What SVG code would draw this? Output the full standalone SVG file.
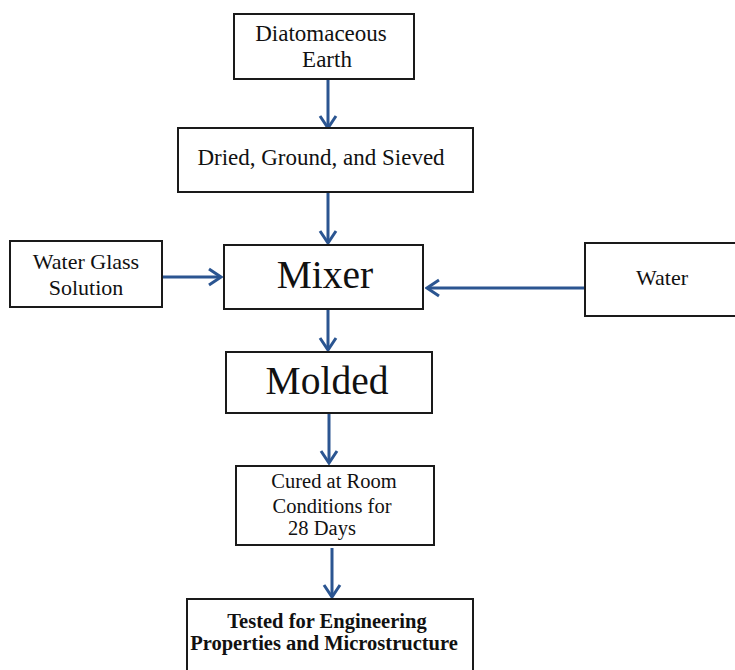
<svg xmlns="http://www.w3.org/2000/svg" width="735" height="670" viewBox="0 0 735 670">
<style>
.box{fill:#fff;stroke:#1a1a1a;stroke-width:2}
.t{font-family:"Liberation Serif","Times New Roman",serif;fill:#111;text-anchor:middle}
.s23{font-size:23px}
.s22{font-size:22px}
.m{font-size:20.5px}
.big{font-size:39.5px}
.b{font-size:20.5px;font-weight:bold}
.c{stroke:#2b5591;stroke-width:3;fill:none}
</style>
<defs>
<marker id="ah" viewBox="0 0 16 20" refX="14" refY="10" markerWidth="16" markerHeight="20" markerUnits="userSpaceOnUse" orient="auto">
<path d="M2,2 L14,10 L2,18" fill="none" stroke="#2b5591" stroke-width="3"/>
</marker>
</defs>
<rect width="735" height="670" fill="#fff"/>
<g id="connectors">
<line class="c" x1="328" y1="79" x2="328" y2="128" marker-end="url(#ah)"/>
<line class="c" x1="328" y1="192" x2="328" y2="243" marker-end="url(#ah)"/>
<line class="c" x1="162" y1="277" x2="221" y2="277" marker-end="url(#ah)"/>
<line class="c" x1="585" y1="288" x2="427" y2="288" marker-end="url(#ah)"/>
<line class="c" x1="328" y1="310" x2="328" y2="350" marker-end="url(#ah)"/>
<line class="c" x1="329" y1="413" x2="329" y2="463" marker-end="url(#ah)"/>
<line class="c" x1="332" y1="548" x2="332" y2="597" marker-end="url(#ah)"/>
</g>
<g id="n-diatomaceous">
<rect class="box" x="234" y="14" width="180" height="65"/>
<text class="t s23" x="321" y="41">Diatomaceous</text>
<text class="t s23" x="327" y="67">Earth</text>
</g>
<g id="n-dried">
<rect class="box" x="178" y="128" width="295" height="64"/>
<text class="t s23" x="321" y="165">Dried, Ground, and Sieved</text>
</g>
<g id="n-waterglass">
<rect class="box" x="10" y="241" width="152" height="66"/>
<text class="t s22" x="86" y="269">Water Glass</text>
<text class="t s22" x="86" y="295">Solution</text>
</g>
<g id="n-mixer">
<rect class="box" x="224" y="245" width="199" height="64"/>
<text class="t big" x="325" y="288">Mixer</text>
</g>
<g id="n-water">
<rect class="box" x="585" y="243" width="152" height="73"/>
<text class="t s22" x="662" y="285">Water</text>
</g>
<g id="n-molded">
<rect class="box" x="226" y="352" width="206" height="61"/>
<text class="t big" x="327" y="394">Molded</text>
</g>
<g id="n-cured">
<rect class="box" x="236" y="466" width="198" height="79"/>
<text class="t m" x="334" y="488">Cured at Room</text>
<text class="t m" x="332" y="513">Conditions for</text>
<text class="t m" x="322" y="535">28 Days</text>
</g>
<g id="n-tested">
<rect class="box" x="187" y="599" width="286" height="80"/>
<text class="t b" x="327" y="628">Tested for Engineering</text>
<text class="t b" x="324" y="650">Properties and Microstructure</text>
</g>
</svg>
